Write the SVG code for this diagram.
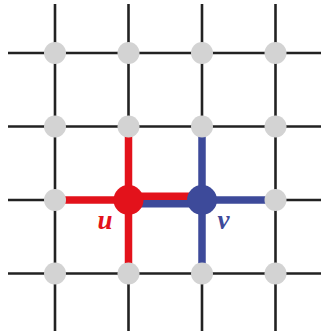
<svg xmlns="http://www.w3.org/2000/svg" width="321" height="334" viewBox="0 0 321 334">
<style>
.grid{stroke:#222;stroke-width:2.6;fill:none}
.red{stroke:#E3121B;stroke-width:7.5;fill:none}
.blue{stroke:#3D4A9A;stroke-width:7.5;fill:none}
.node{fill:#D3D3D3}
.lbl{font-family:"Liberation Serif","DejaVu Serif",serif;font-style:italic;font-weight:bold;font-size:27px;text-anchor:middle}
</style>
<rect width="321" height="334" fill="#fff"/>
<g id="connectors">
<g id="grid">
<line class="grid" x1="55" y1="4" x2="55" y2="331"/>
<line class="grid" x1="128.5" y1="4" x2="128.5" y2="331"/>
<line class="grid" x1="202" y1="4" x2="202" y2="331"/>
<line class="grid" x1="275.5" y1="4" x2="275.5" y2="331"/>
<line class="grid" x1="8" y1="53" x2="321" y2="53"/>
<line class="grid" x1="8" y1="126.5" x2="321" y2="126.5"/>
<line class="grid" x1="8" y1="200" x2="321" y2="200"/>
<line class="grid" x1="8" y1="273.5" x2="321" y2="273.5"/>
</g>
<line class="red" x1="128.5" y1="126.5" x2="128.5" y2="273.5"/>
<line class="red" x1="55" y1="200" x2="128.5" y2="200"/>
<line class="red" x1="128.5" y1="196.2" x2="202" y2="196.2"/>
<line class="blue" x1="128.5" y1="203.8" x2="202" y2="203.8"/>
<line class="blue" x1="202" y1="126.5" x2="202" y2="273.5"/>
<line class="blue" x1="202" y1="200" x2="275.5" y2="200"/>
</g>
<g id="n00"><circle class="node" cx="55" cy="53" r="11"/></g>
<g id="n01"><circle class="node" cx="128.5" cy="53" r="11"/></g>
<g id="n02"><circle class="node" cx="202" cy="53" r="11"/></g>
<g id="n03"><circle class="node" cx="275.5" cy="53" r="11"/></g>
<g id="n10"><circle class="node" cx="55" cy="126.5" r="11"/></g>
<g id="n11"><circle class="node" cx="128.5" cy="126.5" r="11"/></g>
<g id="n12"><circle class="node" cx="202" cy="126.5" r="11"/></g>
<g id="n13"><circle class="node" cx="275.5" cy="126.5" r="11"/></g>
<g id="n20"><circle class="node" cx="55" cy="200" r="11"/></g>
<g id="u"><circle cx="128.5" cy="200" r="15" fill="#E3121B"/><text class="lbl" x="105" y="229" fill="#E3121B">u</text></g>
<g id="v"><circle cx="202" cy="200" r="15" fill="#3D4A9A"/><text class="lbl" x="223.5" y="229" fill="#3D4A9A">v</text></g>
<g id="n23"><circle class="node" cx="275.5" cy="200" r="11"/></g>
<g id="n30"><circle class="node" cx="55" cy="273.5" r="11"/></g>
<g id="n31"><circle class="node" cx="128.5" cy="273.5" r="11"/></g>
<g id="n32"><circle class="node" cx="202" cy="273.5" r="11"/></g>
<g id="n33"><circle class="node" cx="275.5" cy="273.5" r="11"/></g>
</svg>
